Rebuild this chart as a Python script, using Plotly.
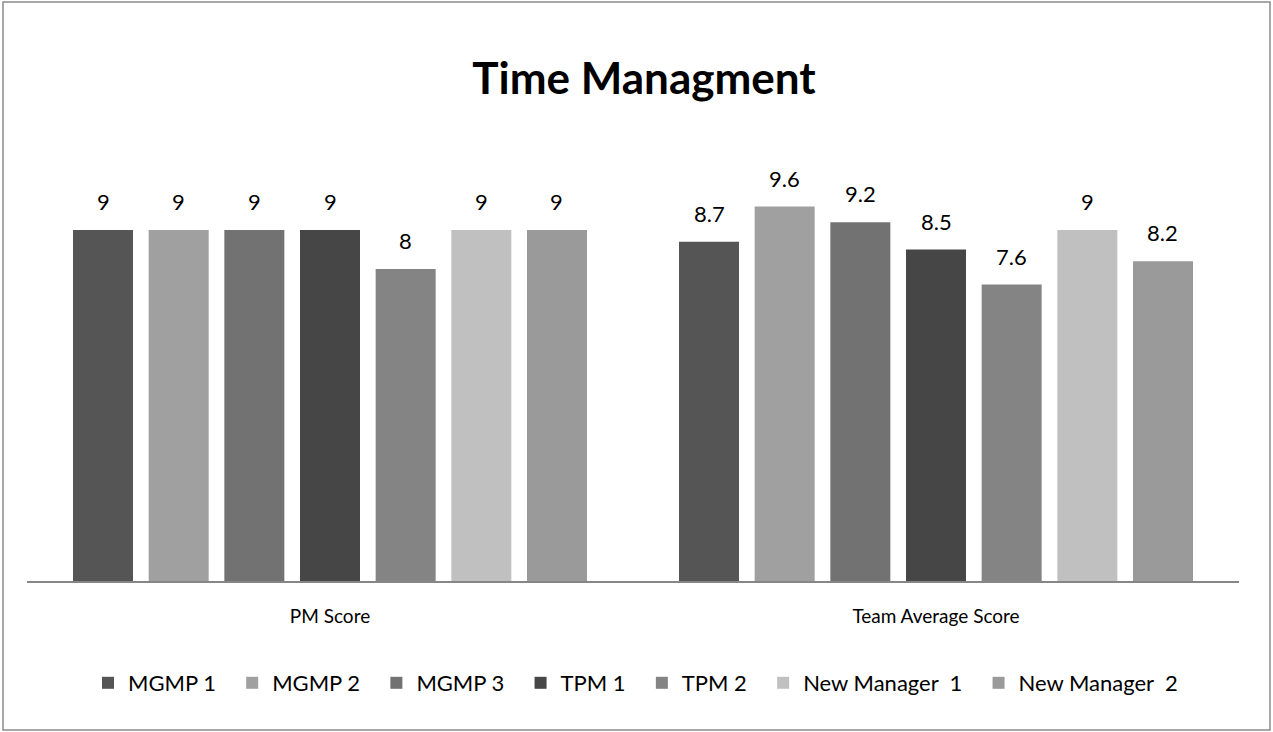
import plotly.graph_objects as go

categories = ["PM Score", "Team Average Score"]
series_names = ["MGMP 1", "MGMP 2", "MGMP 3", "TPM 1", "TPM 2", "New Manager  1", "New Manager  2"]
series_values = [
    [9, 8.7],
    [9, 9.6],
    [9, 9.2],
    [9, 8.5],
    [8, 7.6],
    [9, 9],
    [9, 8.2],
]
colors = ["#555555", "#a0a0a0", "#727272", "#464646", "#848484", "#c0c0c0", "#9a9a9a"]

FONT = "Lato"
W, H = 1273, 732
ml, mr, mt, mb = 27, 34, 191, 151
pw, ph = W - ml - mr, H - mt - mb
BARGAP, GROUPGAP = 0.126, 0.207
n = len(series_names)
slot_px = (pw / len(categories)) * (1 - BARGAP) / n

fig = go.Figure()
for i, (name, vals, c) in enumerate(zip(series_names, series_values, colors)):
    fig.add_trace(go.Bar(
        x=categories, y=vals, name=name + "  ", marker_color=c, marker_line_width=0,
        hoverinfo="skip",
    ))
    for cat, v in zip(categories, vals):
        fig.add_annotation(
            x=cat, y=v, xref="x", yref="y", text=f"{v:g}", showarrow=False,
            xanchor="center", yanchor="bottom",
            xshift=(i - (n - 1) / 2) * slot_px, yshift=13,
            font=dict(family=FONT, size=22, color="#000000"),
        )

def px2x(px):
    return (px - ml) / pw

def py2y(py):
    return (H - mb - py) / ph

fig.add_shape(type="rect", xref="paper", yref="paper",
              x0=px2x(3), x1=px2x(1270), y0=py2y(730), y1=py2y(2),
              line=dict(color="#8a8a8a", width=1.5), fillcolor="rgba(0,0,0,0)", layer="below")

fig.update_layout(
    width=W, height=H,
    margin=dict(l=ml, r=mr, t=mt, b=mb),
    paper_bgcolor="white", plot_bgcolor="white",
    barmode="group", bargap=BARGAP, bargroupgap=GROUPGAP,
    title=dict(text="<b>Time Managment</b>", x=644 / W, xanchor="center",
               y=1 - 79 / H, yanchor="middle",
               font=dict(family=FONT, size=44, color="#000000")),
    showlegend=True,
    legend=dict(orientation="h", x=px2x(88), xanchor="left", y=py2y(683), yanchor="middle",
                font=dict(family=FONT, size=22, color="#000000"),
                itemwidth=30, traceorder="normal", tracegroupgap=0),
    font=dict(family=FONT, size=20, color="#000000"),
)
fig.update_xaxes(showline=True, linecolor="#868686", linewidth=2, showgrid=False,
                 ticks="", tickfont=dict(family=FONT, size=19, color="#000000"),
                 ticklabelstandoff=17)
fig.update_yaxes(range=[0, 10], visible=False, showgrid=False, zeroline=False)

fig.write_html("out.html", config={"displayModeBar": False},
               post_script="document.body.style.margin='0';document.body.style.overflow='hidden';")
